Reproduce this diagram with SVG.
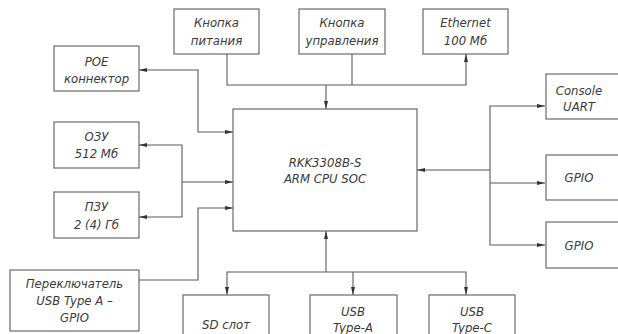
<svg xmlns="http://www.w3.org/2000/svg" width="618" height="334" viewBox="0 0 618 334">
<style>
.box{fill:#fff;stroke:#6a6a6a;stroke-width:1.2}
.ln{fill:none;stroke:#5a5a5a;stroke-width:1.1}
text{font-family:"DejaVu Sans Condensed","Liberation Sans Narrow",sans-serif;font-style:italic;font-size:13px;fill:#3a3a3a;text-anchor:middle}
</style>
<defs>
<marker id="ar" viewBox="0 0 8 4" refX="8" refY="2" markerWidth="8" markerHeight="4" markerUnits="userSpaceOnUse" orient="auto-start-reverse">
<path d="M0,0 L8,2 L0,4 Z" fill="#333"/>
</marker>
</defs>
<rect width="618" height="334" fill="#fff"/>
<g id="connectors">
<path class="ln" d="M139,70 H198 V132 H233" marker-start="url(#ar)" marker-end="url(#ar)"/>
<path class="ln" d="M139,145 H182 V217 H139" marker-start="url(#ar)" marker-end="url(#ar)"/>
<path class="ln" d="M182,182 H233" marker-end="url(#ar)"/>
<path class="ln" d="M139,280 H198 V208 H233" marker-end="url(#ar)"/>
<path class="ln" d="M227,54 V85 H466 V54" marker-end="url(#ar)"/>
<path class="ln" d="M352,54 V85"/>
<path class="ln" d="M326,85 V109" marker-end="url(#ar)"/>
<path class="ln" d="M490,170 H417" marker-end="url(#ar)"/>
<path class="ln" d="M545,106 H490 V245 H545" marker-start="url(#ar)" marker-end="url(#ar)"/>
<path class="ln" d="M490,183 H545" marker-end="url(#ar)"/>
<path class="ln" d="M326,272 V231" marker-end="url(#ar)"/>
<path class="ln" d="M227,295 V272 H466 V295" marker-start="url(#ar)" marker-end="url(#ar)"/>
<path class="ln" d="M353,272 V295" marker-end="url(#ar)"/>
</g>
<g id="cpu"><rect class="box" x="233" y="109" width="184" height="122"/><text x="325" y="167">RKK3308B-S</text><text x="325" y="183">ARM CPU SOC</text></g>
<g id="btn-power"><rect class="box" x="174" y="9" width="85" height="45"/><text x="216.5" y="27">Кнопка</text><text x="216.5" y="45">питания</text></g>
<g id="btn-ctrl"><rect class="box" x="299" y="9" width="86" height="45"/><text x="342" y="27">Кнопка</text><text x="342" y="45">управления</text></g>
<g id="ethernet"><rect class="box" x="423" y="9" width="85" height="45"/><text x="465.5" y="27">Ethernet</text><text x="465.5" y="45">100 Мб</text></g>
<g id="poe"><rect class="box" x="54" y="46" width="85" height="45"/><text x="96.5" y="66">POE</text><text x="96.5" y="83">коннектор</text></g>
<g id="ram"><rect class="box" x="54" y="122" width="85" height="46"/><text x="96.5" y="141">ОЗУ</text><text x="96.5" y="158">512 Мб</text></g>
<g id="rom"><rect class="box" x="54" y="192" width="85" height="46"/><text x="96.5" y="211">ПЗУ</text><text x="96.5" y="229">2 (4) Гб</text></g>
<g id="switch"><rect class="box" x="10" y="270" width="129" height="61"/><text x="74.5" y="288">Переключатель</text><text x="74.5" y="305">USB Type A –</text><text x="74.5" y="322">GPIO</text></g>
<g id="console"><rect class="box" x="546" y="74" width="80" height="45"/><text x="579" y="95">Console</text><text x="579" y="111">UART</text></g>
<g id="gpio1"><rect class="box" x="546" y="155" width="80" height="45"/><text x="579" y="182">GPIO</text></g>
<g id="gpio2"><rect class="box" x="546" y="222" width="80" height="46"/><text x="579" y="250">GPIO</text></g>
<g id="sd"><rect class="box" x="183" y="295" width="86" height="45"/><text x="226" y="329">SD слот</text></g>
<g id="usba"><rect class="box" x="310" y="295" width="87" height="45"/><text x="353" y="316">USB</text><text x="353" y="332">Type-A</text></g>
<g id="usbc"><rect class="box" x="429" y="295" width="86" height="45"/><text x="472" y="316">USB</text><text x="472" y="332">Type-C</text></g>
</svg>
